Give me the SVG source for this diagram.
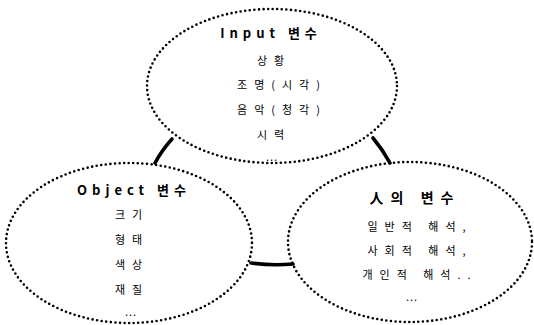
<svg xmlns="http://www.w3.org/2000/svg" width="534" height="325" viewBox="0 0 534 325">
<style>
.ell{fill:none;stroke:#000;stroke-width:2.6;stroke-linecap:round;stroke-dasharray:0 4.6}
.con{fill:none;stroke:#000;stroke-width:3.6;stroke-linecap:round}
text{font-family:"Noto Sans CJK KR","Liberation Sans",sans-serif;fill:#000;text-anchor:middle}
.h{font-size:13px;font-weight:bold;letter-spacing:5px}
.b{font-size:11px;letter-spacing:7px}
.d{font-size:11px;letter-spacing:1px}
</style>
<rect width="534" height="325" fill="#fff"/>
<g id="connectors">
<path class="con" d="M172,139 Q162,150 155,163"/>
<path class="con" d="M373,138 Q383,150 390,163"/>
<path class="con" d="M251,263 Q272,266 293,264"/>
</g>
<g id="input">
<ellipse class="ell" cx="272" cy="86" rx="125" ry="77"/>
<text class="h" x="271" y="38">Input 변수</text>
<text class="b" x="274" y="65">상황</text>
<text class="b" x="282" y="89">조명(시각)</text>
<text class="b" x="282" y="114">음악(청각)</text>
<text class="b" x="274" y="139">시력</text>
<text class="d" x="272" y="161">...</text>
</g>
<g id="object">
<ellipse class="ell" cx="129" cy="243" rx="123" ry="80"/>
<text class="h" x="134" y="195">Object 변수</text>
<text class="b" x="132" y="219">크기</text>
<text class="b" x="132" y="244">형태</text>
<text class="b" x="132" y="269">색상</text>
<text class="b" x="132" y="294">재질</text>
<text class="d" x="131" y="316">...</text>
</g>
<g id="person">
<ellipse class="ell" cx="410" cy="242" rx="122" ry="80"/>
<text class="h" x="415" y="203" style="font-size:14px;letter-spacing:7px">人의 변수</text>
<text class="b" x="420" y="231">일반적 해석,</text>
<text class="b" x="420" y="255">사회적 해석,</text>
<text class="b" x="420" y="279">개인적 해석..</text>
<text class="d" x="412" y="301">...</text>
</g>
</svg>
